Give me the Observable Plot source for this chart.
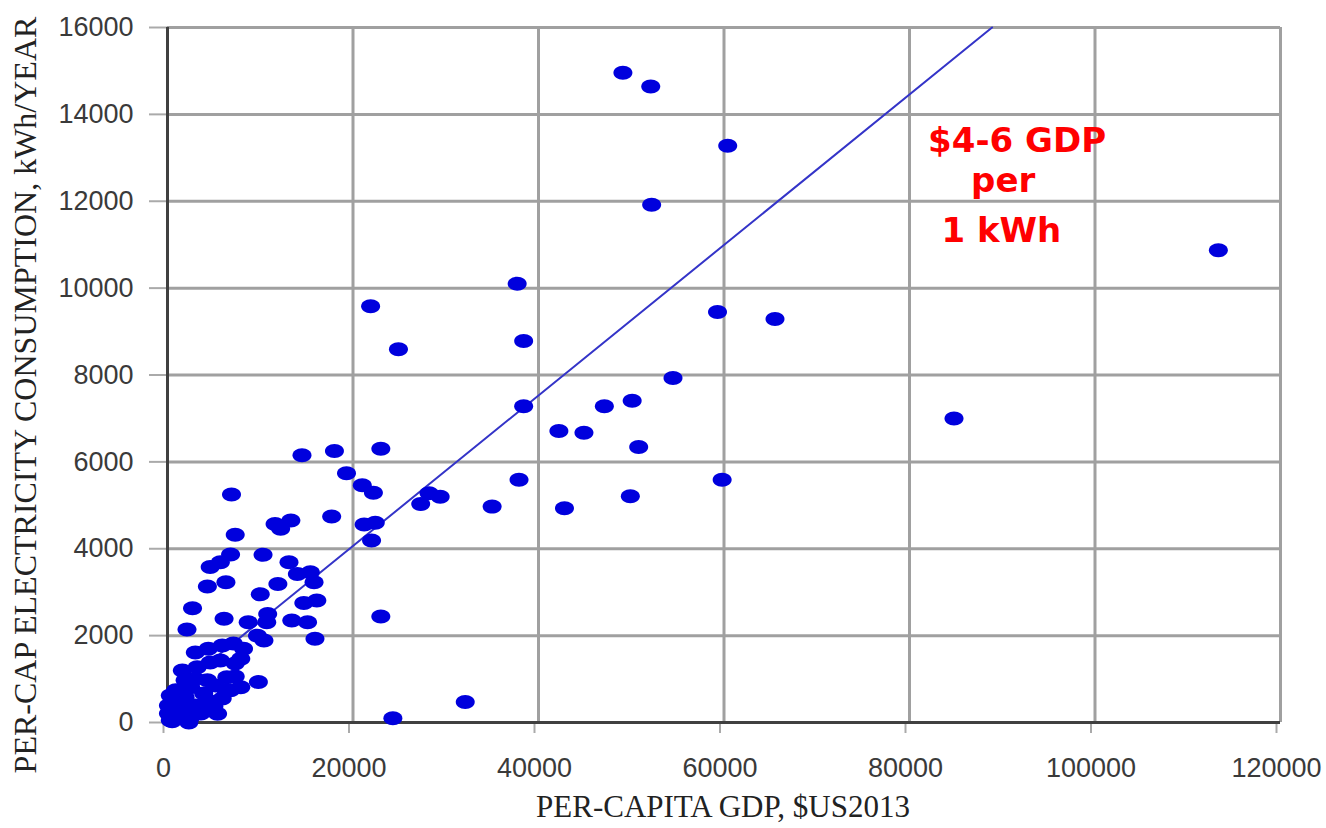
<!DOCTYPE html>
<html><head><meta charset="utf-8">
<script src="https://cdn.jsdelivr.net/npm/d3@7"></script>
<script src="https://cdn.jsdelivr.net/npm/@observablehq/plot@0.6"></script>
<style>
html,body{margin:0;padding:0;background:#fff;}
#chart{width:1326px;height:828px;overflow:hidden;}
</style></head><body><div id="chart"></div>
<script>
// per-capita GDP ($US2013) of each country
const gdp = [49100,52100,60400,52200,113300,37700,21900,59300,65500,24900,38400,54500,38400,47100,50100,84800,42200,44900,50800,23000,
14500,18000,19300,37900,59800,21000,22200,6900,28200,29400,27300,35000,42800,49900,17700,21200,22400,22000,7300,11600,
13300,12200,6800,5700,4600,10300,13100,14000,15400,15800,6300,4300,11900,10000,14700,16100,2700,6100,10800,10700,
8700,13400,15100,2100,23000,15900,9700,10400,32100,24300,9800,7900,5400,
7100,8200,4400,3000,5900,1600,3200,5700,7300,4600,7900,6400,4300,2500,3900,5200,3000,900,700,1700,100,1100,300,500,2500,3600,4300,1900,3000,100,1400,4600,5900,6800,
2300,5000,6300,7300,1900,300];
// per-capita electricity consumption (kWh/year)
const kwh = [14960,14640,13280,11920,10870,10100,9580,9450,9290,8590,8780,7930,7280,7280,7410,7000,6710,6670,6340,6300,
6150,6250,5740,5590,5590,5460,5290,5250,5280,5200,5030,4970,4930,5210,4740,4560,4600,4190,4320,4570,
4650,4460,3870,3690,3580,3860,3690,3420,3460,3230,3230,3130,3190,2950,2750,2810,2630,2390,2500,2310,
2310,2350,2310,2140,2440,1930,2000,1890,470,100,930,810,200,
1820,1700,1700,1610,1770,1200,1270,1430,1360,1380,1470,1040,970,810,670,850,1010,740,510,350,210,120,50,30,120,210,510,580,390,390,230,280,550,740,
0,370,740,1060,970,620];
// trend line end points
const fitGdp = [0, 88900];
const fitKwh = [600, 16000];
// ticks
const xTicks = [0,20000,40000,60000,80000,100000,120000];
const yTicks = [0,2000,4000,6000,8000,10000,12000,14000,16000];
const xTitle = "PER-CAPITA GDP, $US2013";
const yTitle = "PER-CAP ELECTRICITY CONSUMPTION, kWh/YEAR";
// annotation
const noteText = ["$4-6 GDP","per","1 kWh"];
const noteGdp = [91600, 90100, 89900];
const noteKwh = [13390, 12470, 11310];

const points = gdp.map((g,i)=>({gdp:g, kwh:kwh[i]}));
const fit = fitGdp.map((g,i)=>({gdp:g, kwh:fitKwh[i]}));
const notes = noteText.map((t,i)=>({label:t, gdp:noteGdp[i], kwh:noteKwh[i]}));

const ellipse = {
  draw(ctx, size) {
    const rx = 9.5, ry = 7, kx = rx*0.5523, ky = ry*0.5523;
    ctx.moveTo(rx,0);
    ctx.bezierCurveTo(rx,ky,kx,ry,0,ry);
    ctx.bezierCurveTo(-kx,ry,-rx,ky,-rx,0);
    ctx.bezierCurveTo(-rx,-ky,-kx,-ry,0,-ry);
    ctx.bezierCurveTo(kx,-ry,rx,-ky,rx,0);
    ctx.closePath();
  }
};

const chart = Plot.plot({
  width: 1326, height: 828,
  marginLeft: 167, marginRight: 46, marginTop: 27, marginBottom: 106,
  style: {fontFamily: "Liberation Sans", background: "white", overflow: "visible"},
  x: {domain: [0,120000]},
  y: {domain: [0,16000]},
  marks: [
    Plot.gridX(xTicks, {stroke: "#a0a0a0", strokeOpacity: 1, strokeWidth: 3}),
    Plot.gridY(yTicks, {stroke: "#a0a0a0", strokeOpacity: 1, strokeWidth: 3}),
    Plot.axisX(xTicks, {tickSize: 11, tickPadding: 24, stroke: "#aaa", strokeWidth: 2, fill: "#3a3a3a", fontSize: 27, tickFormat: d3.format("d"), label: null, dx: -4}),
    Plot.axisY(yTicks, {tickSize: 18, tickPadding: 16, stroke: "#aaa", strokeWidth: 2, fill: "#3a3a3a", fontSize: 27, tickFormat: d3.format("d"), label: null}),
    Plot.ruleX([0], {stroke: "#404040", strokeWidth: 3}),
    Plot.ruleY([0], {stroke: "#404040", strokeWidth: 3}),
    Plot.line(fit, {x: "gdp", y: "kwh", stroke: "#3434c8", strokeWidth: 2}),
    Plot.dot(points, {x: "gdp", y: "kwh", symbol: ellipse, fill: "#0000dd", stroke: "none"}),
    Plot.text([xTitle], {text: d => d, frameAnchor: "bottom", textAnchor: "middle", lineAnchor: "middle", dy: 85, dx: -1, fontFamily: "Liberation Serif", fontSize: 31, fill: "#222"}),
    Plot.text([yTitle], {text: d => d, frameAnchor: "left", textAnchor: "middle", lineAnchor: "middle", rotate: -90, dx: -142, dy: 20, fontFamily: "Liberation Serif", fontSize: 32, fill: "#222"}),
    Plot.text(notes, {x: "gdp", y: "kwh", text: "label", fill: "#ff0000", fontWeight: "bold", fontSize: 34, fontFamily: "DejaVu Sans"})
  ]
});
document.getElementById("chart").appendChild(chart);
</script></body></html>
